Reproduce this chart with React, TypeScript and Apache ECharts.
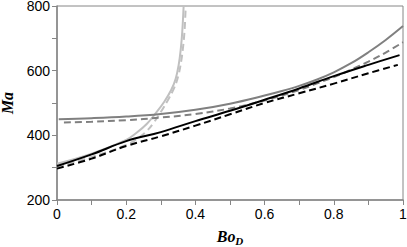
import React, { useEffect, useRef } from "react";
import * as echarts from "echarts";

// Data
const graySolidX = [0.005, 0.1, 0.2, 0.3, 0.4, 0.5, 0.6, 0.65, 0.7, 0.75, 0.8, 0.85, 0.9, 0.95, 1.0];
const graySolidY = [450, 453, 458, 466, 479, 498, 523, 537, 553, 572, 595, 623, 657, 695, 738];

const grayDashX = [0.02, 0.1, 0.2, 0.3, 0.4, 0.5, 0.6, 0.7, 0.75, 0.8, 0.85, 0.9, 0.95, 1.0];
const grayDashY = [440, 442, 447, 455, 466, 483, 508, 540, 560, 580, 603, 628, 656, 688];

const blackSolidX = [0, 0.1, 0.2, 0.3, 0.4, 0.5, 0.6, 0.7, 0.8, 0.9, 0.99];
const blackSolidY = [305, 341, 382, 410, 444, 476, 510, 545, 583, 618, 648];

const blackDashX = [0, 0.1, 0.2, 0.3, 0.4, 0.5, 0.6, 0.7, 0.8, 0.9, 0.985];
const blackDashY = [297, 328, 367, 397, 430, 465, 500, 530, 560, 592, 618];

const lightSolidX = [0, 0.1, 0.2, 0.23, 0.26, 0.285, 0.31, 0.33, 0.343, 0.352, 0.358, 0.362, 0.366];
const lightSolidY = [312, 343, 386, 408, 436, 468, 504, 540, 575, 620, 670, 720, 800];

const lightDashX = [0, 0.1, 0.2, 0.235, 0.26, 0.28, 0.3, 0.32, 0.338, 0.35, 0.359, 0.365, 0.369, 0.372];
const lightDashY = [303, 333, 370, 392, 414, 440, 472, 508, 545, 582, 630, 680, 730, 800];

const xTicks = [0, 0.2, 0.4, 0.6, 0.8, 1];
const yTicks = [200, 400, 600, 800];

const pairs = (xs: number[], ys: number[]) => xs.map((x, i) => [x, ys[i]]);

export default function App() {
  const ref = useRef<HTMLDivElement>(null);
  useEffect(() => {
    if (!ref.current) return;
    const chart = echarts.init(ref.current, undefined, { renderer: "svg" });
    const axisColor = "#868686";
    const labelFont = { fontFamily: "Liberation Sans", fontSize: 14, color: "#000" };
    const line = (name: string, xs: number[], ys: number[], color: string, dashed: boolean, z: number) => ({
      name,
      type: "line",
      data: pairs(xs, ys),
      showSymbol: false,
      smooth: 0.4,
      z,
      lineStyle: { color, width: 2, type: dashed ? [7, 4] : "solid", cap: "butt" },
    });
    chart.setOption({
      animation: false,
      backgroundColor: "#fff",
      grid: {
        left: 57,
        right: 4,
        top: 6,
        bottom: 47,
        outerBoundsMode: "none",
        containLabel: false,
        show: true,
        borderColor: axisColor,
        borderWidth: 1,
      },
      xAxis: {
        type: "value",
        min: 0,
        max: 1,
        interval: 0.1,
        name: "{a|Bo}{b|D}",
        nameLocation: "middle",
        nameGap: 27,
        nameTextStyle: {
          rich: {
            a: { fontFamily: "Liberation Serif", fontStyle: "italic", fontWeight: "bold", fontSize: 16, color: "#000" },
            b: { fontFamily: "Liberation Serif", fontStyle: "italic", fontWeight: "bold", fontSize: 11, color: "#000", padding: [8, 0, 0, 0] },
          },
        },
        axisLine: { show: true, lineStyle: { color: axisColor, width: 1.5 } },
        axisTick: { show: true, inside: false, length: 5, lineStyle: { color: axisColor } },
        splitLine: { show: false },
        axisLabel: {
          ...labelFont,
          margin: 7,
          formatter: (v: number) => {
            const t = xTicks.find((k) => Math.abs(k - v) < 1e-6);
            return t === undefined ? "" : String(t);
          },
        },
      },
      yAxis: {
        type: "value",
        min: 200,
        max: 800,
        interval: 100,
        name: "Ma",
        nameLocation: "middle",
        nameGap: 39,
        nameRotate: 90,
        nameTextStyle: { fontFamily: "Liberation Serif", fontStyle: "italic", fontWeight: "bold", fontSize: 16, color: "#000" },
        axisLine: { show: true, lineStyle: { color: axisColor, width: 1.5 } },
        axisTick: { show: true, inside: false, length: 5, lineStyle: { color: axisColor } },
        splitLine: { show: false },
        axisLabel: {
          ...labelFont,
          margin: 7,
          formatter: (v: number) => (yTicks.includes(v) ? String(v) : ""),
        },
      },
      series: [
        line("light solid", lightSolidX, lightSolidY, "#c0c0c0", false, 2),
        line("light dashed", lightDashX, lightDashY, "#c0c0c0", true, 2),
        line("gray solid", graySolidX, graySolidY, "#808080", false, 3),
        line("gray dashed", grayDashX, grayDashY, "#808080", true, 3),
        line("black solid", blackSolidX, blackSolidY, "#000000", false, 4),
        line("black dashed", blackDashX, blackDashY, "#000000", true, 4),
      ],
    });
    return () => chart.dispose();
  }, []);
  return <div ref={ref} style={{ position: "absolute", left: 0, top: 0, width: 407, height: 247 }} />;
}
